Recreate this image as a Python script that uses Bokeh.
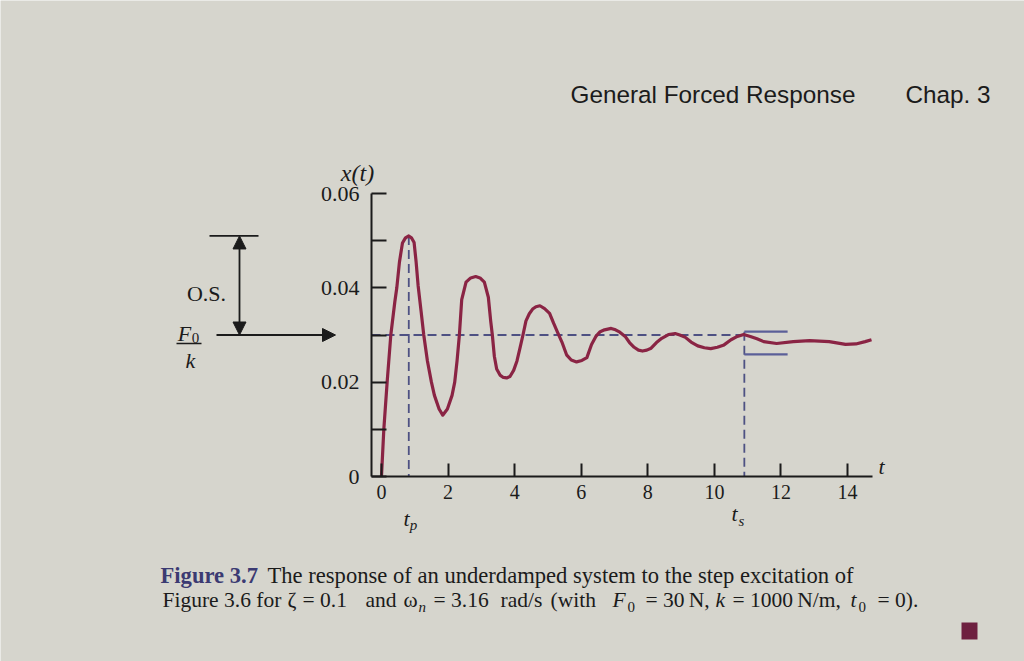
from bokeh.plotting import figure
from bokeh.models import Label, Arrow, NormalHead, FixedTicker, BoxAnnotation, Range1d
from bokeh.embed import file_html
from bokeh.resources import INLINE

# ---------------- data ----------------
t_curve = [0.00, 0.07, 0.17, 0.28, 0.40, 0.46, 0.54, 0.63, 0.72, 0.82, 0.90, 0.98,
           1.04, 1.10, 1.19, 1.27, 1.38, 1.50, 1.59, 1.73, 1.84, 1.98, 2.12, 2.20,
           2.27, 2.34, 2.41, 2.54, 2.68, 2.83, 2.96, 3.09, 3.21, 3.28, 3.33, 3.39,
           3.46, 3.56, 3.66, 3.76, 3.86, 3.97, 4.07, 4.16, 4.25, 4.34, 4.44, 4.54,
           4.64, 4.76, 4.90, 5.05, 5.17, 5.28, 5.42, 5.56, 5.70, 5.86, 6.02, 6.17,
           6.31, 6.44, 6.57, 6.70, 6.90, 7.03, 7.16, 7.32, 7.45, 7.59, 7.72, 7.84,
           7.97, 8.10, 8.26, 8.42, 8.62, 8.82, 8.96, 9.11, 9.30, 9.50, 9.70, 9.89,
           10.09, 10.29, 10.50, 10.69, 10.88, 11.08, 11.28, 11.48, 11.87, 12.37,
           12.86, 13.45, 13.94, 14.25, 14.53, 14.72]
x_curve = [0.0000, 0.0100, 0.0200, 0.0300, 0.0370, 0.0400, 0.0455, 0.0495, 0.0506, 0.0510, 0.0506, 0.0496,
           0.0455, 0.0405, 0.0350, 0.0300, 0.0245, 0.0200, 0.0172, 0.0143, 0.0130, 0.0143, 0.0172, 0.0200,
           0.0245, 0.0300, 0.0375, 0.0412, 0.0421, 0.0424, 0.0421, 0.0412, 0.0380, 0.0330, 0.0300, 0.0255,
           0.0228, 0.0215, 0.0210, 0.0209, 0.0212, 0.0225, 0.0245, 0.0272, 0.0300, 0.0330, 0.0345, 0.0355,
           0.0360, 0.0362, 0.0356, 0.0346, 0.0325, 0.0307, 0.0285, 0.0258, 0.0247, 0.0243, 0.0246, 0.0252,
           0.0280, 0.0297, 0.0307, 0.0311, 0.0314, 0.0311, 0.0306, 0.0297, 0.0284, 0.0274, 0.0268, 0.0266,
           0.0268, 0.0272, 0.0284, 0.0293, 0.0301, 0.0303, 0.0300, 0.0296, 0.0285, 0.0277, 0.0273, 0.0271,
           0.0274, 0.0279, 0.0290, 0.0297, 0.0301, 0.0297, 0.0292, 0.0286, 0.0282, 0.0286,
           0.0288, 0.0286, 0.0280, 0.0281, 0.0286, 0.0290]

x_ticks = [0, 2, 4, 6, 8, 10, 12, 14]
y_major_ticks = [0, 0.02, 0.04, 0.06]
y_minor_ticks = [0.01, 0.03, 0.05]

steady_value = 0.03      # F0/k
peak_value = 0.051       # first overshoot peak
t_peak = 0.82            # tp
t_settle = 10.9          # ts
band_upper = 0.0307
band_lower = 0.0259
band_end = 12.2

header_left = "General Forced Response"
header_right = "Chap. 3"
caption_head = "Figure 3.7"
caption_line1 = "The response of an underdamped system to the step excitation of"
# second caption line, piece by piece: (left px, text, style, is_subscript)
caption_line2 = [
    (162, "Figure 3.6 for", "normal", False),
    (287, "\u03b6", "normal", False),
    (302, "= 0.1", "normal", False),
    (365, "and", "normal", False),
    (403, "\u03c9", "normal", False),
    (418, "n", "italic", True),
    (433, "= 3.16", "normal", False),
    (500, "rad/s", "normal", False),
    (550, "(with", "normal", False),
    (612, "F", "italic", False),
    (627, "0", "normal", True),
    (645, "= 30\u2009N,", "normal", False),
    (715, "k", "italic", False),
    (732, "= 1000\u2009N/m,", "normal", False),
    (850, "t", "italic", False),
    (858, "0", "normal", True),
    (877, "= 0).", "normal", False),
]

# ---------------- styling / layout ----------------
PAPER = "#d6d5cd"
INK = "#1b1b1b"
CURVE = "#8a2444"
DASH = "#4e5183"
BAND = "#5b5f98"
SERIF = "Liberation Serif"
SANS = "Liberation Sans"

W, H = 1024, 661
X_START, X_END = -0.3, 14.75      # extent of the drawn time axis
Y_START, Y_END = 0.0, 0.06        # extent of the drawn x(t) axis
AX_L, AX_W = 371, 501             # page pixels of the time axis
AX_T, AX_H = 193, 283             # page pixels of the x(t) axis

SX = AX_W / (X_END - X_START)
SY = AX_H / (Y_END - Y_START)


def tx(px):
    return X_START + (px - AX_L) / SX


def vy(py):
    return Y_START + (AX_T + AX_H - py) / SY


p = figure(width=W, height=H,
           x_range=Range1d(tx(0), tx(W)), y_range=Range1d(vy(H), vy(0)),
           output_backend="svg", toolbar_location=None,
           min_border_left=0, min_border_right=0, min_border_top=0, min_border_bottom=0,
           background_fill_color=PAPER, border_fill_color=PAPER,
           outline_line_color=None)
p.grid.visible = False

# axes (drawn at fixed positions inside the page)
xa = p.xaxis[0]
xa.fixed_location = Y_START
xa.bounds = (X_START, X_END)
xa.ticker = FixedTicker(ticks=x_ticks)
xa.axis_line_width = 2
xa.axis_line_color = INK
xa.major_tick_in = 13
xa.major_tick_out = 0
xa.major_tick_line_width = 2
xa.major_tick_line_color = INK
xa.minor_tick_line_color = None
xa.major_label_text_font = SERIF
xa.major_label_text_font_size = "20px"
xa.major_label_text_color = INK
xa.major_label_standoff = 8

ya = p.yaxis[0]
ya.fixed_location = X_START
ya.bounds = (Y_START, Y_END)
ya.ticker = FixedTicker(ticks=y_major_ticks, minor_ticks=y_minor_ticks)
ya.axis_line_width = 2
ya.axis_line_color = INK
ya.major_tick_in = 15
ya.major_tick_out = 0
ya.minor_tick_in = 15
ya.minor_tick_out = 0
ya.major_tick_line_width = 2
ya.minor_tick_line_width = 2
ya.major_tick_line_color = INK
ya.minor_tick_line_color = INK
ya.major_label_text_font = SERIF
ya.major_label_text_font_size = "22px"
ya.major_label_text_color = INK
ya.major_label_standoff = 12
ya.major_label_overrides = {0: "0"}

# dashed reference lines
p.segment(x0=[X_START], y0=[steady_value], x1=[t_settle], y1=[steady_value],
          line_color=DASH, line_width=1.8, line_dash="9 5")
p.segment(x0=[t_peak], y0=[peak_value], x1=[t_peak], y1=[0],
          line_color=DASH, line_width=1.8, line_dash="9 5")
p.segment(x0=[t_settle], y0=[band_upper], x1=[t_settle], y1=[0],
          line_color=DASH, line_width=1.8, line_dash="9 5")
# settling band
p.segment(x0=[t_settle, t_settle], y0=[band_upper, band_lower],
          x1=[band_end, band_end], y1=[band_upper, band_lower],
          line_color=BAND, line_width=2.2)

# response curve
p.line(t_curve, x_curve, line_color=CURVE, line_width=3.2, line_join="round")


# ---------------- annotations around the chart ----------------
def lab(px, py, text, size, font=SERIF, style="normal", align="left", color=INK):
    """py is the vertical middle of the text, in page pixels"""
    p.add_layout(Label(x=tx(px), y=vy(py), text=text, text_font=font,
                       text_font_size=size, text_font_style=style,
                       text_align=align, text_baseline="middle",
                       text_color=color))


lab(570, 94, header_left, "24.3px", font=SANS)
lab(905, 94, header_right, "24.3px", font=SANS)

lab(357, 172, "x(t)", "24px", style="italic", align="center")
lab(878, 466, "t", "22px", style="italic")
lab(406, 518, "t", "22px", style="italic", align="center")
lab(413, 524, "p", "15px", style="italic", align="center")
lab(734, 513, "t", "22px", style="italic", align="center")
lab(741, 520, "s", "15px", style="italic", align="center")

lab(206, 293, "O.S.", "22px", align="center")
lab(184, 333, "F", "22px", style="italic", align="center")
lab(195, 337, "0", "15px", align="center")
lab(190, 360, "k", "22px", style="italic", align="center")


def head():
    return NormalHead(size=13, fill_color=INK, line_color=INK, line_width=1)


# fraction bar
p.add_layout(Arrow(end=None, x_start=tx(176), y_start=vy(343), x_end=tx(201), y_end=vy(343),
                   line_color=INK, line_width=1.5))
# overshoot top bar
p.add_layout(Arrow(end=None, x_start=tx(209), y_start=peak_value, x_end=tx(258), y_end=peak_value,
                   line_color=INK, line_width=1.8))
# overshoot double arrow
p.add_layout(Arrow(start=head(), end=head(), x_start=tx(239), y_start=peak_value,
                   x_end=tx(239), y_end=steady_value, line_color=INK, line_width=1.8))
# F0/k arrow
p.add_layout(Arrow(end=head(), x_start=tx(216), y_start=steady_value,
                   x_end=tx(335), y_end=steady_value, line_color=INK, line_width=1.8))

# caption
CAP1 = "22.6px"
CAP2 = "21.5px"
lab(160, 575, caption_head, CAP1, style="bold", color="#3b3a72")
lab(267, 575, caption_line1, CAP1)
for px, txt, style, sub in caption_line2:
    if sub:
        lab(px, 606, txt, "15px", style=style)
    else:
        lab(px, 599.5, txt, CAP2, style=style)

# end-of-caption square
p.add_layout(BoxAnnotation(left=tx(961), right=tx(977), top=vy(622), bottom=vy(639),
                           fill_color="#6e2040", fill_alpha=1.0, line_color=None))

open("out.html", "w").write(file_html(p, INLINE))
